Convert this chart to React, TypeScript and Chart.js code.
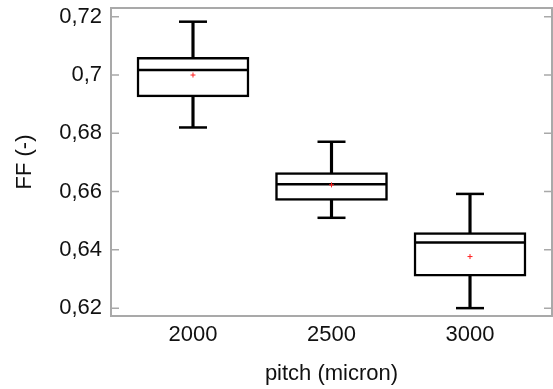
import React, { useEffect, useRef } from "react";
import { Chart, registerables } from "chart.js";

Chart.register(...registerables);

const categories = [2000, 2500, 3000];
const categoryLabels = ["2000", "2500", "3000"];
const whiskerLow = [0.682, 0.651, 0.62];
const q1 = [0.6925, 0.657, 0.631];
const median = [0.7017, 0.6625, 0.6425];
const q3 = [0.7061, 0.6665, 0.6459];
const whiskerHigh = [0.7183, 0.6771, 0.6592];
const means = [0.7, 0.6623, 0.6377];
const yTickValues = [0.62, 0.64, 0.66, 0.68, 0.7, 0.72];
const yTickLabels = ["0,62", "0,64", "0,66", "0,68", "0,7", "0,72"];

const FONT = '"Liberation Sans", Arial, Helvetica, sans-serif';
const AXIS_COLOR = "#a9a9a9";

const framePlugin = {
  id: "frameTicks",
  beforeDatasetsDraw(chart: any) {
    const { ctx, chartArea } = chart;
    const y = chart.scales.y;
    ctx.save();
    ctx.strokeStyle = AXIS_COLOR;
    ctx.lineWidth = 2;
    ctx.strokeRect(chartArea.left, chartArea.top, chartArea.right - chartArea.left, chartArea.bottom - chartArea.top);
    ctx.lineWidth = 1.5;
    ctx.beginPath();
    y.ticks.forEach((t: any) => {
      const py = y.getPixelForValue(t.value);
      ctx.moveTo(chartArea.left, py);
      ctx.lineTo(chartArea.left + 8, py);
      ctx.moveTo(chartArea.right, py);
      ctx.lineTo(chartArea.right - 8, py);
    });
    ctx.stroke();
    ctx.restore();
  },
};

export default function App() {
  const ref = useRef<HTMLCanvasElement | null>(null);
  useEffect(() => {
    if (!ref.current) return;
    const caps: any[] = [];
    categories.forEach((c, i) => {
      caps.push({ x: c, y: whiskerLow[i] });
      caps.push({ x: c, y: whiskerHigh[i] });
    });
    const chart = new Chart(ref.current, {
      type: "bar",
      data: {
        datasets: [
          {
            type: "scatter",
            data: categories.map((c, i) => ({ x: c, y: means[i] })),
            pointStyle: "cross",
            pointRadius: 2.5,
            borderColor: "#ff2020",
            borderWidth: 1,
          } as any,
          {
            type: "scatter",
            data: categories.map((c, i) => ({ x: c, y: median[i] })),
            pointStyle: "line",
            pointRadius: 55,
            borderColor: "#000",
            borderWidth: 2.5,
          } as any,
          {
            type: "scatter",
            data: caps,
            pointStyle: "line",
            pointRadius: 14,
            borderColor: "#000",
            borderWidth: 2.5,
          } as any,
          {
            type: "bar",
            data: categories.map((c, i) => ({ x: c, y: [q1[i], q3[i]] })),
            backgroundColor: "#fff",
            borderColor: "#000",
            borderWidth: 2.5,
            borderSkipped: false,
            barThickness: 112,
            grouped: false,
          } as any,
          {
            type: "bar",
            data: categories.map((c, i) => ({ x: c, y: [whiskerLow[i], whiskerHigh[i]] })),
            backgroundColor: "#000",
            borderWidth: 0,
            barThickness: 2.5,
            grouped: false,
          } as any,
        ],
      },
      options: {
        animation: false,
        responsive: false,
        devicePixelRatio: 1,
        layout: { autoPadding: false, padding: { top: 8, right: 1, left: 0, bottom: 0 } },
        plugins: { legend: { display: false }, tooltip: { enabled: false } },
        scales: {
          x: {
            type: "linear",
            min: 1704,
            max: 3296,
            offset: false,
            grid: { display: false, drawTicks: false },
            border: { display: false },
            afterBuildTicks: (s: any) => {
              s.ticks = categories.map((v) => ({ value: v }));
            },
            afterFit: (s: any) => {
              s.height = 73;
              s.paddingLeft = 0;
              s.paddingRight = 0;
            },
            ticks: {
              padding: 6,
              color: "#111",
              font: { family: FONT, size: 22 },
              callback: (v: any) => {
                const i = categories.indexOf(Number(v));
                return i >= 0 ? categoryLabels[i] : "";
              },
            },
            title: {
              display: true,
              text: "pitch (micron)",
              color: "#111",
              font: { family: FONT, size: 22 },
              padding: { top: 0, bottom: 2 },
            },
          },
          y: {
            type: "linear",
            min: 0.6173,
            max: 0.723,
            grid: { display: false, drawTicks: false },
            border: { display: false },
            afterBuildTicks: (s: any) => {
              s.ticks = yTickValues.map((v) => ({ value: v }));
            },
            afterFit: (s: any) => {
              s.width = 111;
              s.paddingTop = 0;
              s.paddingBottom = 0;
            },
            ticks: {
              padding: 9,
              color: "#111",
              font: { family: FONT, size: 22 },
              callback: (v: any) => {
                const i = yTickValues.findIndex((t) => Math.abs(t - Number(v)) < 1e-6);
                return i >= 0 ? yTickLabels[i] : "";
              },
            },
            title: {
              display: true,
              text: "FF (-)",
              color: "#111",
              font: { family: FONT, size: 22 },
              padding: { top: 12, bottom: 0 },
            },
          },
        },
      } as any,
      plugins: [framePlugin],
    });
    return () => chart.destroy();
  }, []);
  return (
    <div style={{ position: "absolute", left: 0, top: 0, width: 553, height: 389, background: "#fff" }}>
      <canvas ref={ref} width={553} height={389} />
    </div>
  );
}
